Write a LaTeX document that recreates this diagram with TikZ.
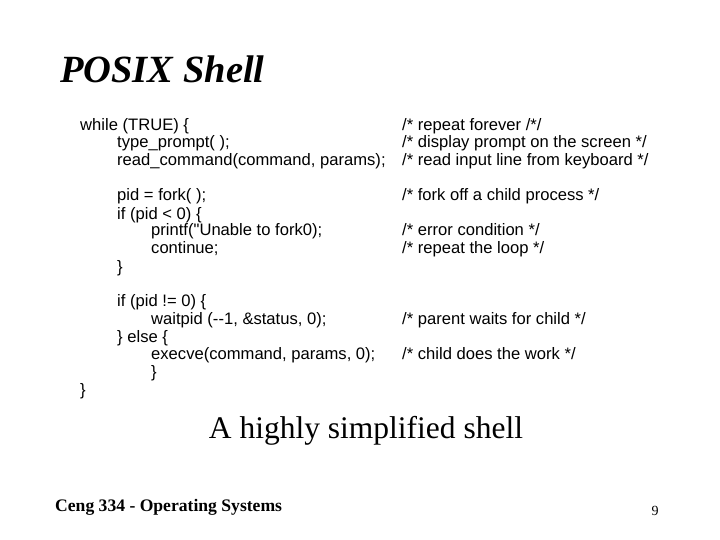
\documentclass[tikz,border=0pt]{standalone}
\usepackage{fontspec}
\setmainfont{Liberation Serif}
\newfontfamily\codefont{Liberation Sans}
\begin{document}
\begin{tikzpicture}[x=1pt,y=-1pt,
  code/.style={anchor=base west,inner sep=0pt,font=\codefont\fontsize{16.6}{18}\selectfont}]
\useasboundingbox (0,0) rectangle (720,540);
\node[anchor=base west,inner sep=0pt,font=\fontsize{38.5}{42}\selectfont\bfseries\itshape] (title) at (60,83) {POSIX Shell};
\foreach \y/\x/\t [count=\i] in {
 125/80/{while (TRUE) \{},
 142/117/{type\_prompt( );},
 160/117/{read\_command(command, params);},
 195/117/{pid = fork( );},
 213/117/{if (pid < 0) \{},
 230/151/{printf("Unable to fork0);},
 248/151/{continue;},
 266/117/{\}},
 300/117/{if (pid != 0) \{},
 318/151/{waitpid (--1, \&status, 0);},
 336/117/{\} else \{},
 353/151/{execve(command, params, 0);},
 371/151/{\}},
 389/80/{\}}}
 { \node[code] (c\i) at (\x,\y+6) {\t}; }
\foreach \y/\t [count=\i] in {
 125/{/* repeat forever /*/},
 142/{/* display prompt on the screen */},
 160/{/* read input line from keyboard */},
 195/{/* fork off a child process */},
 230/{/* error condition */},
 248/{/* repeat the loop */},
 318/{/* parent waits for child */},
 353/{/* child does the work */}}
 { \node[code] (m\i) at (402,\y+6) {\t}; }
\node[anchor=base,inner sep=0pt,font=\fontsize{31.5}{34}\selectfont] (cap) at (366,438) {A highly simplified shell};
\node[anchor=base west,inner sep=0pt,font=\fontsize{17.6}{20}\selectfont\bfseries] (foot) at (55,511) {Ceng 334 - Operating Systems};
\node[anchor=base,inner sep=0pt,font=\fontsize{14}{16}\selectfont] (pg) at (655,515) {9};
\end{tikzpicture}
\end{document}
